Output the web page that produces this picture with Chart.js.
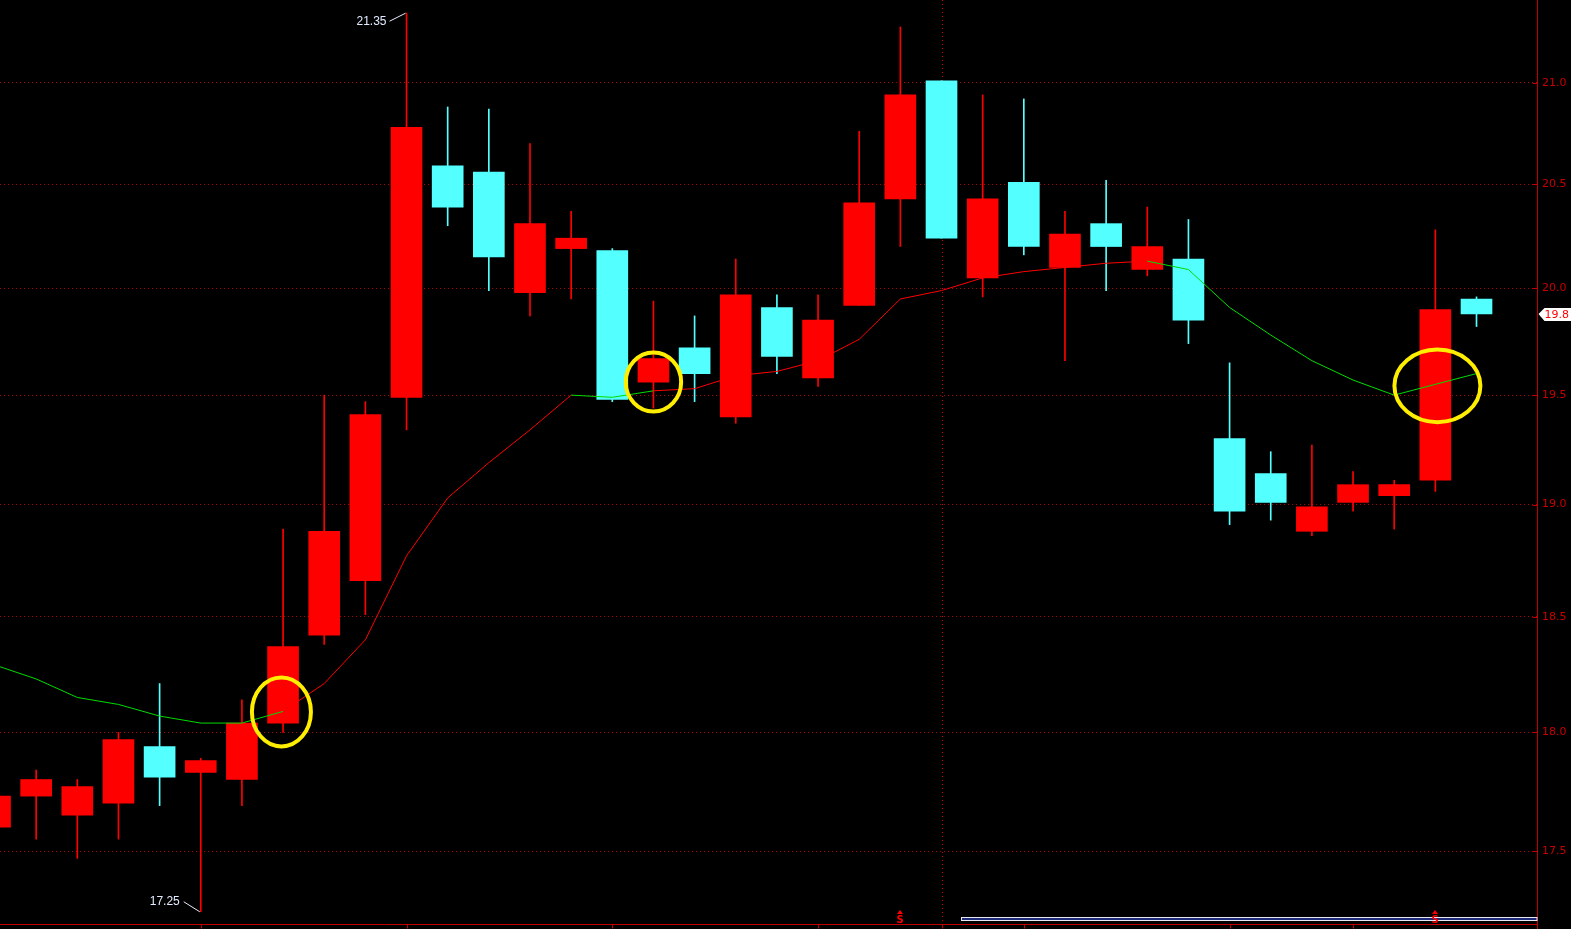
<!DOCTYPE html>
<html>
<head>
<meta charset="utf-8">
<script src="https://cdn.jsdelivr.net/npm/chart.js"></script>
<style>
	html, body { margin: 0; padding: 0; background: #000; overflow: hidden; }
	canvas { display: block; }
</style>
</head>
<body>
<canvas id="kline" width="1571" height="929"></canvas>
<script>
// daily candles (index 0 is the cut-off one at the left edge)
var open  = [17.60, 17.73, 17.65, 17.70, 17.94, 17.83, 17.80, 18.04, 18.42, 18.66, 19.49, 20.59, 20.56, 19.98, 20.19, 20.18, 19.56, 19.72, 19.40, 19.91, 19.58, 19.92, 20.43, 21.01, 20.05, 20.51, 20.10, 20.31, 20.09, 20.14, 19.30, 19.14, 18.88, 19.01, 19.04, 19.11, 19.95];
var close = [17.73, 17.80, 17.77, 17.97, 17.81, 17.88, 18.04, 18.37, 18.88, 19.41, 20.78, 20.39, 20.15, 20.31, 20.24, 19.48, 19.67, 19.60, 19.97, 19.68, 19.85, 20.41, 20.94, 20.24, 20.43, 20.20, 20.26, 20.20, 20.20, 19.85, 18.97, 19.01, 18.99, 19.09, 19.09, 19.90, 19.88];
var high  = [17.76, 17.84, 17.80, 18.00, 18.21, 17.89, 18.14, 18.89, 19.50, 19.47, 21.35, 20.88, 20.87, 20.70, 20.37, 20.19, 19.94, 19.87, 20.14, 19.97, 19.97, 20.76, 21.28, 21.01, 20.94, 20.92, 20.37, 20.52, 20.39, 20.33, 19.65, 19.24, 19.27, 19.15, 19.11, 20.28, 19.96];
var low   = [17.58, 17.55, 17.47, 17.55, 17.69, 17.25, 17.69, 18.00, 18.38, 18.51, 19.34, 20.30, 19.99, 19.87, 19.95, 19.47, 19.44, 19.47, 19.37, 19.60, 19.54, 19.92, 20.20, 20.24, 19.96, 20.16, 19.66, 19.99, 20.06, 19.74, 18.91, 18.93, 18.86, 18.97, 18.89, 19.06, 19.82];
// moving average line
var ma    = [18.29, 18.23, 18.15, 18.12, 18.07, 18.04, 18.04, 18.09, 18.21, 18.40, 18.77, 19.03, 19.19, 19.34, 19.50, 19.49, 19.52, 19.53, 19.59, 19.61, 19.66, 19.76, 19.95, 19.99, 20.05, 20.08, 20.10, 20.12, 20.13, 20.09, 19.91, 19.78, 19.66, 19.57, 19.50, 19.55, 19.60];

var priceTicks = [17.5, 18.0, 18.5, 19.0, 19.5, 20.0, 20.5, 21.0];
var dateTicks = [5, 10, 15, 20, 23, 25, 30, 33];   // small marks on the bottom line
var monthLine = 23;                                // dotted vertical line
var signalIdx = [22, 35];                          // red "S" marks at the bottom
var lastPriceText = "19.8";

// segments of the MA line drawn green, the rest is red
var GREEN_RANGES = [[0, 7], [14, 16], [28, 36]];
// hand drawn yellow rings: [index, price, rx, ry]
var RINGS = [[6.96, 18.088, 29.5, 34.5], [16.0, 19.561, 27.7, 29.6], [35.05, 19.543, 43, 36.3]];

var UP = "#ff0000", DOWN = "#54ffff";

var bodies = [], wicks = [], colors = [], maPts = [];
for (var i = 0; i < open.length; i++) {
	bodies.push({ x: i, y: [open[i], close[i]] });
	wicks.push({ x: i, y: [low[i], high[i]] });
	colors.push(close[i] >= open[i] ? UP : DOWN);
	maPts.push({ x: i, y: ma[i] });
}

function isGreen(idx) {
	for (var k = 0; k < GREEN_RANGES.length; k++) {
		if (idx >= GREEN_RANGES[k][0] && idx < GREEN_RANGES[k][1]) return true;
	}
	return false;
}

var overlay = {
	id: "overlay",
	beforeDraw: function(chart) {
		var c = chart.ctx;
		c.save();
		c.fillStyle = "#000";
		c.fillRect(0, 0, chart.width, chart.height);
		c.restore();
	},
	beforeDatasetsDraw: function(chart) {
		var c = chart.ctx, a = chart.chartArea;
		var x = Math.round(chart.scales.x.getPixelForValue(monthLine)) + 0.5;
		c.save();
		c.strokeStyle = "#c00000";
		c.setLineDash([1, 3]);
		c.beginPath();
		c.moveTo(x, 0);
		c.lineTo(x, a.bottom);
		c.stroke();
		c.restore();
	},
	afterDraw: function(chart) {
		var c = chart.ctx, a = chart.chartArea;
		var xs = chart.scales.x, ys = chart.scales.y;
		c.save();

		// right axis line over the full height + small inner ticks
		var ax = Math.round(a.right) + 0.5;
		c.strokeStyle = "#c00000";
		c.lineWidth = 1;
		c.beginPath();
		c.moveTo(ax, 0);
		c.lineTo(ax, chart.height);
		priceTicks.forEach(function(v) {
			var y = Math.round(ys.getPixelForValue(v)) + 0.5;
			c.moveTo(ax - 5, y);
			c.lineTo(ax, y);
		});
		c.stroke();

		// bottom line with date marks
		var by = Math.round(a.bottom) + 0.5;
		c.beginPath();
		c.moveTo(0, by);
		c.lineTo(ax, by);
		dateTicks.forEach(function(d) {
			var x = Math.round(xs.getPixelForValue(d)) + 0.5;
			c.moveTo(x, by);
			c.lineTo(x, by + 4);
		});
		c.stroke();

		// scroll bar
		c.fillStyle = "#e8e8f0";
		c.fillRect(961, a.bottom - 7, ax - 961, 4);
		c.fillStyle = "#1c2a78";
		c.fillRect(962, a.bottom - 6, ax - 963, 2);

		// signal marks
		c.fillStyle = "#ff0000";
		c.font = "bold 10px 'DejaVu Sans'";
		c.textAlign = "center";
		c.textBaseline = "alphabetic";
		signalIdx.forEach(function(d) {
			var x = Math.round(xs.getPixelForValue(d));
			c.beginPath();
			c.moveTo(x, a.bottom - 14);
			c.lineTo(x - 3, a.bottom - 10);
			c.lineTo(x + 3, a.bottom - 10);
			c.closePath();
			c.fill();
			c.fillText("S", x, a.bottom - 1);
		});

		// yellow rings
		c.strokeStyle = "#ffee00";
		c.lineWidth = 4;
		RINGS.forEach(function(r) {
			c.beginPath();
			c.ellipse(xs.getPixelForValue(r[0]), ys.getPixelForValue(r[1]), r[2], r[3], 0, 0, Math.PI * 2);
			c.stroke();
		});

		// highest / lowest marks
		var hiIdx = 0, loIdx = 0;
		for (var i = 1; i < high.length; i++) {
			if (high[i] > high[hiIdx]) hiIdx = i;
			if (low[i] < low[loIdx]) loIdx = i;
		}
		c.strokeStyle = "#e8eeff";
		c.fillStyle = "#e2ecff";
		c.lineWidth = 1;
		c.font = "12px 'Liberation Sans'";
		c.textAlign = "right";
		c.textBaseline = "middle";
		var hx = xs.getPixelForValue(hiIdx), hy = ys.getPixelForValue(high[hiIdx]);
		c.beginPath();
		c.moveTo(hx - 17, hy + 8);
		c.lineTo(hx - 1, hy);
		c.stroke();
		c.fillText(high[hiIdx].toFixed(2), hx - 20, hy + 8);
		var lx = xs.getPixelForValue(loIdx), ly = ys.getPixelForValue(low[loIdx]);
		c.beginPath();
		c.moveTo(lx - 17, ly - 10);
		c.lineTo(lx - 1, ly);
		c.stroke();
		c.fillText(low[loIdx].toFixed(2), lx - 21, ly - 10);

		// last price tag
		var py = Math.round(ys.getPixelForValue(close[close.length - 1]));
		c.fillStyle = "#ffffff";
		c.beginPath();
		c.moveTo(ax + 1, py);
		c.lineTo(ax + 7, py - 6);
		c.lineTo(chart.width, py - 6);
		c.lineTo(chart.width, py + 7);
		c.lineTo(ax + 7, py + 7);
		c.closePath();
		c.fill();
		c.fillStyle = "#ff0000";
		c.font = "11px 'DejaVu Sans'";
		c.textAlign = "left";
		c.fillText(lastPriceText, ax + 7, py + 1);

		c.restore();
	}
};

var ctx = document.getElementById("kline");

var chart = new Chart(ctx, {
	type: "bar",
	data: {
		datasets: [
			{
				type: "line",
				label: "MA",
				data: maPts,
				borderColor: "#ff0000",
				borderWidth: 1,
				pointRadius: 0,
				tension: 0,
				fill: false,
				order: 1,
				segment: {
					borderColor: function(s) { return isGreen(s.p0DataIndex) ? "#00dd00" : "#ff0000"; }
				}
			},
			{
				label: "body",
				data: bodies,
				backgroundColor: colors,
				borderWidth: 0,
				barThickness: 31,
				grouped: false,
				order: 2
			},
			{
				label: "wick",
				data: wicks,
				backgroundColor: colors,
				borderWidth: 0,
				barThickness: 1,
				grouped: false,
				order: 3
			}
		]
	},
	options: {
		responsive: false,
		animation: false,
		layout: { padding: { left: 0, top: 0, right: 0, bottom: 5 } },
		plugins: {
			legend: { display: false },
			tooltip: { enabled: false }
		},
		scales: {
			x: {
				type: "linear",
				display: false,
				offset: false,
				min: 0.1215,
				max: 37.47
			},
			y: {
				type: "logarithmic",
				position: "right",
				min: 17.208,
				max: 21.417,
				afterBuildTicks: function(axis) {
					axis.ticks = priceTicks.map(function(v) { return { value: v }; });
				},
				afterFit: function(axis) {
					axis.width = 34;
					axis.paddingTop = 0;
					axis.paddingBottom = 0;
				},
				grid: {
					color: "#b00000",
					lineWidth: 1,
					drawTicks: false
				},
				border: { display: true, color: "#c00000", width: 1, dash: [1, 3] },
				ticks: {
					color: "#c80000",
					padding: 5,
					font: { family: "DejaVu Sans", size: 11 },
					callback: function(v) { return Number(v).toFixed(1); }
				}
			}
		}
	},
	plugins: [overlay]
});
</script>
</body>
</html>
